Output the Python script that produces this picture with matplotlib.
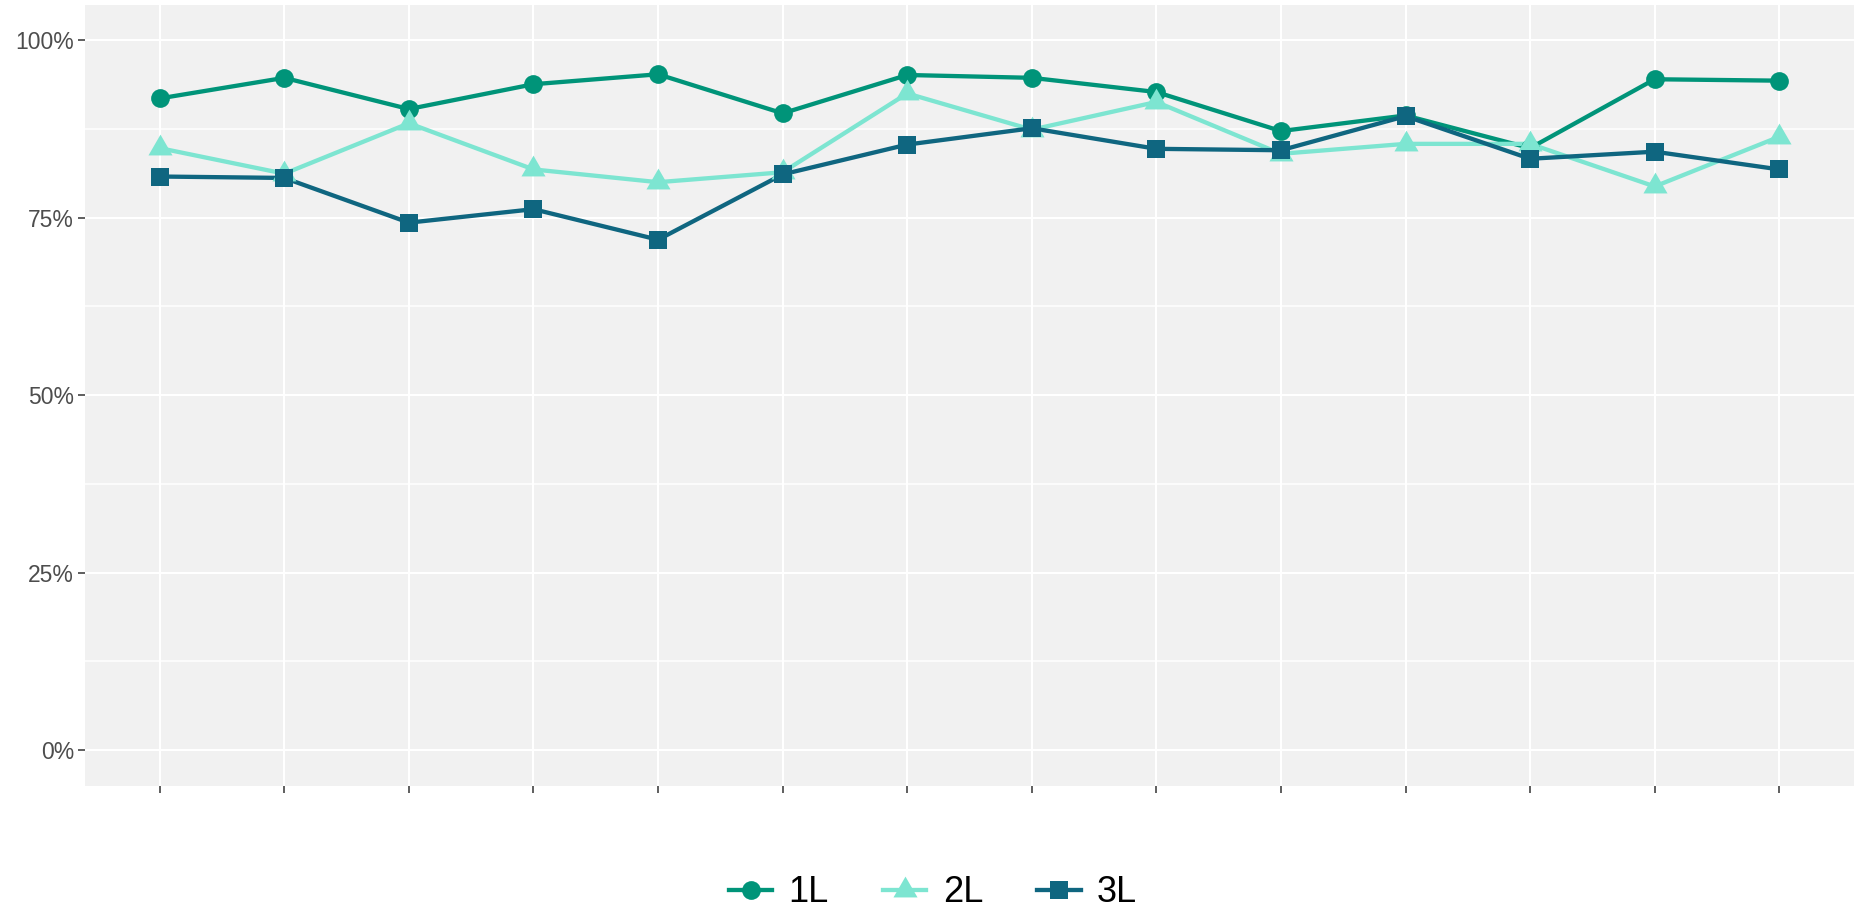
import matplotlib
matplotlib.use("Agg")
import matplotlib.pyplot as plt
from matplotlib.lines import Line2D
from matplotlib.ticker import PercentFormatter, MultipleLocator

plt.rcParams["font.family"] = ["Liberation Sans", "DejaVu Sans"]

# x categories (no labels shown on the axis)
periods = list(range(1, 15))

# share per period, in percent
series_names = ["1L", "2L", "3L"]
vals_1l = [91.8, 94.7, 90.3, 93.8, 95.2, 89.7, 95.1, 94.7, 92.7, 87.2, 89.4, 84.8, 94.5, 94.3]
vals_2l = [84.8, 81.2, 88.3, 81.8, 80.0, 81.4, 92.5, 87.4, 91.3, 84.0, 85.4, 85.4, 79.4, 86.4]
vals_3l = [80.8, 80.6, 74.3, 76.2, 71.9, 81.1, 85.3, 87.6, 84.7, 84.5, 89.3, 83.3, 84.3, 81.8]

colors = ["#009479", "#7DE5D1", "#0F6680"]
# equilateral triangle like R's pch 17, centred on the centroid
tri = [(0, 1), (-0.866, -0.5), (0.866, -0.5)]
markers = ["o", tri, "s"]
msizes = [13.5, 20, 13.5]

fig = plt.figure(figsize=(18.54, 9.15), dpi=100)
ax = fig.add_axes([85 / 1854, 129.3 / 915, 1 - 85 / 1854, (785.7 - 4.7) / 915])
ax.set_facecolor("#F1F1F1")

all_vals = [vals_1l, vals_2l, vals_3l]

# lines first, then points on top (ggplot draws geoms in layers)
for vals, col in zip(all_vals, colors):
    ax.plot(periods, vals, color=col, lw=3.1, zorder=3, solid_capstyle="butt")
for vals, col, mk, ms in zip(all_vals, colors, markers, msizes):
    ax.plot(periods, vals, linestyle="none", marker=mk, ms=ms, color=col,
            markeredgewidth=0, zorder=4)

ax.set_xlim(0.4, 14.6)
ax.set_ylim(-5, 105)
ax.set_xticks(periods)
ax.set_xticklabels([""] * len(periods))
ax.yaxis.set_major_locator(MultipleLocator(25))
ax.yaxis.set_minor_locator(MultipleLocator(12.5))
ax.yaxis.set_major_formatter(PercentFormatter(100, decimals=0))

ax.grid(True, which="major", color="white", lw=1.5, zorder=0)
ax.grid(True, which="minor", axis="y", color="white", lw=1.1, zorder=0)
ax.set_axisbelow(True)
ax.tick_params(axis="both", which="major", length=5, width=1.1, color="#333333",
               labelcolor="#4D4D4D", labelsize=16.5, pad=3)
ax.tick_params(axis="y", which="minor", length=0)
for s in ax.spines.values():
    s.set_visible(False)

handles = [Line2D([0], [0], color=c, lw=3.1, marker=m, ms=ms, markeredgewidth=0)
           for c, m, ms in zip(colors, markers, msizes)]
fig.legend(handles, series_names, loc="center", bbox_to_anchor=(933 / 1854, 1 - 893 / 915),
           ncol=3, frameon=False, fontsize=26, handlelength=1.2, handletextpad=0.45,
           columnspacing=1.5)

fig.savefig("out.png", dpi=100)
